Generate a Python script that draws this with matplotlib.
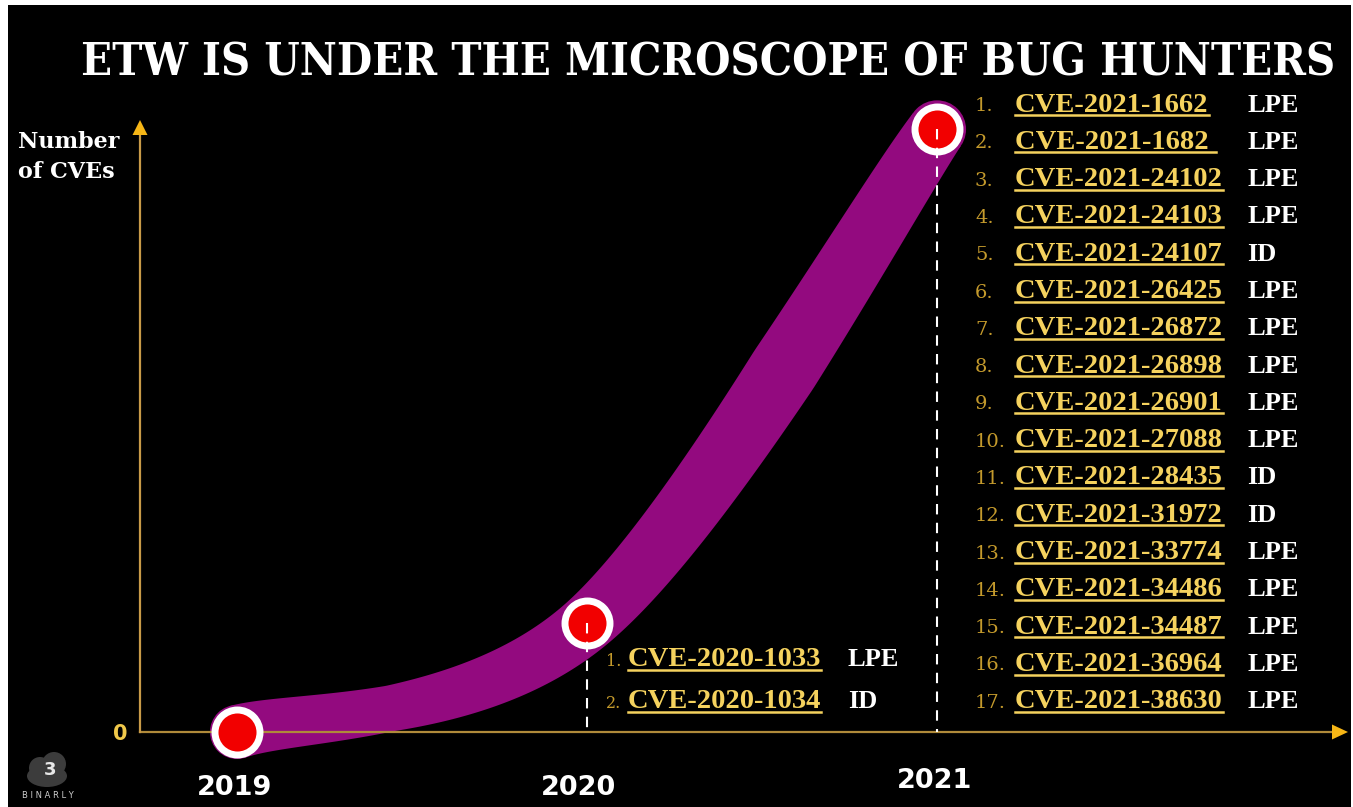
import numpy as np
import matplotlib
matplotlib.use('Agg')
import matplotlib.pyplot as plt
from matplotlib.patches import Polygon, Circle, Ellipse, Rectangle
from matplotlib.lines import Line2D
from matplotlib.transforms import IdentityTransform, ScaledTranslation

# data
years = [2019, 2020, 2021]
cve_counts = [0, 2, 17]

cve_2020 = ['CVE-2020-1033', 'CVE-2020-1034']
kind_2020 = ['LPE', 'ID']

cve_2021 = ['CVE-2021-1662', 'CVE-2021-1682 ', 'CVE-2021-24102', 'CVE-2021-24103',
            'CVE-2021-24107', 'CVE-2021-26425', 'CVE-2021-26872', 'CVE-2021-26898',
            'CVE-2021-26901', 'CVE-2021-27088', 'CVE-2021-28435', 'CVE-2021-31972',
            'CVE-2021-33774', 'CVE-2021-34486', 'CVE-2021-34487', 'CVE-2021-36964',
            'CVE-2021-38630']
kind_2021 = ['LPE', 'LPE', 'LPE', 'LPE', 'ID', 'LPE', 'LPE', 'LPE', 'LPE', 'LPE',
             'ID', 'ID', 'LPE', 'LPE', 'LPE', 'LPE', 'LPE']

title = 'ETW IS UNDER THE MICROSCOPE OF BUG HUNTERS'

W, H = 1353, 807
GOLD = '#f5d25e'
DIM_GOLD = '#c49a2c'
PURPLE = '#930a7f'

fig = plt.figure(figsize=(W / 100, H / 100), dpi=100, facecolor='white')
fig.add_artist(Rectangle((8 / W, 0), (1351 - 8) / W, (H - 5) / H,
                         transform=fig.transFigure, facecolor='black',
                         edgecolor='none', zorder=0))


def px(x, y):
    # pixel from top-left -> figure fraction
    return x / W, 1 - y / H


ax = fig.add_axes([140 / W, (H - 732) / H, (1348 - 140) / W, (732 - 120) / H])
ax.patch.set_visible(False)
for s in ax.spines.values():
    s.set_visible(False)

# slightly compressed y scale so the points sit where they do on the slide
ax.set_yscale('function', functions=(lambda v: np.sign(v) * np.abs(v) ** 0.8,
                                     lambda v: np.sign(v) * np.abs(v) ** 1.25))
ax.set_xlim(2018.723, 2022.174)
ax.set_ylim(0, 17.33)

ax.set_xticks(years)
ax.set_xticklabels([str(y) for y in years], color='white', fontsize=19.5,
                   family='DejaVu Sans', weight='bold')
ax.set_yticks([0])
ax.set_yticklabels(['0'], color='#f0c84a', fontsize=15, family='DejaVu Sans',
                   weight='bold')
ax.tick_params(axis='x', length=0, pad=31)
ax.tick_params(axis='y', length=0, pad=9)
# small nudges of the year labels as on the slide
for lab, (dx, dy) in zip(ax.get_xticklabels(), [(-2, 0), (-6, 0), (-2, 5)]):
    lab.set_transform(lab.get_transform() +
                      ScaledTranslation(dx / 72, dy / 72, fig.dpi_scale_trans))

# axis lines with arrow heads
o = ax.transAxes.transform((0, 0))
xt = ax.transAxes.transform((1, 0))
yt = ax.transAxes.transform((0, 1))
ax.add_artist(Line2D([o[0], xt[0] - 12], [o[1], o[1]], transform=IdentityTransform(),
                     color='#b08a3a', lw=1.6, zorder=4, clip_on=False))
ax.add_artist(Line2D([o[0], o[0]], [o[1], yt[1] - 12], transform=IdentityTransform(),
                     color='#c89a48', lw=1.6, zorder=4, clip_on=False))
head = '#f6b616'
ax.add_patch(Polygon([[xt[0], xt[1]], [xt[0] - 16, xt[1] + 7.5], [xt[0] - 16, xt[1] - 7.5]],
                     closed=True, transform=IdentityTransform(), facecolor=head,
                     edgecolor='none', zorder=4, clip_on=False))
ax.add_patch(Polygon([[yt[0], yt[1]], [yt[0] - 7.5, yt[1] - 15], [yt[0] + 7.5, yt[1] - 15]],
                     closed=True, transform=IdentityTransform(), facecolor=head,
                     edgecolor='none', zorder=4, clip_on=False))

# thick purple band through the points (catmull-rom in pixel space)
pts = ax.transData.transform(np.column_stack([years, cve_counts]))
tang = np.zeros_like(pts)
tang[0] = (pts[1] - pts[0]) / 2
tang[-1] = (pts[-1] - pts[-2]) / 2
tang[1:-1] = (pts[2:] - pts[:-2]) / 2
t = np.linspace(0, 1, 120)[:, None]
curve = []
par = []
for i in range(len(pts) - 1):
    b0, b3 = pts[i], pts[i + 1]
    b1 = b0 + tang[i] / 3
    b2 = b3 - tang[i + 1] / 3
    seg = (1 - t) ** 3 * b0 + 3 * (1 - t) ** 2 * t * b1 + 3 * (1 - t) * t ** 2 * b2 + t ** 3 * b3
    curve.append(seg)
    par.append(i + t[:, 0])
curve = np.vstack(curve)
par = np.concatenate(par)
d = np.gradient(curve, axis=0)
nrm = np.column_stack([-d[:, 1], d[:, 0]])
nrm /= np.linalg.norm(nrm, axis=1)[:, None]
hw = np.interp(par, [0, 0.5, 1, 1.5, 2], [27, 23, 29, 35, 29])[:, None]
outline = np.vstack([curve + nrm * hw, (curve - nrm * hw)[::-1]])
ax.add_patch(Polygon(outline, closed=True, transform=IdentityTransform(),
                     facecolor=PURPLE, edgecolor='none', zorder=2, clip_on=False))
ax.add_patch(Circle(pts[0], 27, transform=IdentityTransform(), facecolor=PURPLE,
                    edgecolor='none', zorder=2, clip_on=False))
ax.add_patch(Circle(pts[-1], 29, transform=IdentityTransform(), facecolor=PURPLE,
                    edgecolor='none', zorder=2, clip_on=False))

# points
ax.plot(years, cve_counts, 'o', ms=32.4, mfc='#f20000', mec='white', mew=5,
        zorder=5, clip_on=False)

# dashed drop lines
for yr, c in zip(years, cve_counts):
    if c > 0:
        ax.plot([yr, yr], [c, 0], color='white', lw=1.5, ls=(0, (5, 4)),
                zorder=6, clip_on=False)

# axis label
fig.text(*px(18, 157), 'Number\nof CVEs', color='white', fontsize=16,
         family='DejaVu Serif', weight='bold', ha='left', va='center',
         linespacing=1.5)

renderer = fig.canvas.get_renderer()


def cve_row(num, x_num, x_id, x_kind, y, cve, kind, num_size):
    fig.text(*px(x_num, y + 1), num, color=DIM_GOLD, fontsize=num_size,
             family='DejaVu Serif', ha='left', va='center')
    tx = fig.text(*px(x_id, y), cve, color=GOLD, fontsize=20.5,
                  family='Liberation Serif', weight='bold', ha='left', va='center')
    fig.text(*px(x_kind, y), kind, color='white', fontsize=19,
             family='Liberation Serif', weight='bold', ha='left', va='center')
    bb = tx.get_window_extent(renderer)
    fig.add_artist(Line2D([bb.x0, bb.x1], [bb.y0 + 2.5, bb.y0 + 2.5],
                          transform=IdentityTransform(), color=GOLD, lw=1.8))


for i, (c, k) in enumerate(zip(cve_2021, kind_2021)):
    cve_row('%d.' % (i + 1), 975, 1015, 1247, 105 + i * 37.3, c, k, 14)

for i, (c, k) in enumerate(zip(cve_2020, kind_2020)):
    cve_row('%d.' % (i + 1), 606, 628, 848, 660 + i * 42, c, k, 11.5)

# title, fitted to the slide width
tt = fig.text(*px(708, 75), title, color='white', fontsize=50,
              family='DejaVu Serif', fontstretch='condensed', weight='bold',
              ha='center', va='baseline')
w = tt.get_window_extent(renderer).width
tt.set_fontsize(50 * 1255 / w)

# logo
for (cx, cy, ew, eh) in [(47, 776, 40, 22), (40, 768, 22, 22), (54, 764, 24, 24)]:
    fig.add_artist(Ellipse((cx, H - cy), ew, eh, transform=IdentityTransform(),
                           facecolor='#3c3c3c', edgecolor='none'))
fig.text(*px(50, 770), '3', color='#e8e8e8', fontsize=13, weight='bold',
         ha='center', va='center')
fig.text(*px(48, 796), 'B I N A R L Y', color='#cfcfcf', fontsize=6,
         ha='center', va='center')

fig.savefig('out.png', dpi=100, facecolor=fig.get_facecolor())
